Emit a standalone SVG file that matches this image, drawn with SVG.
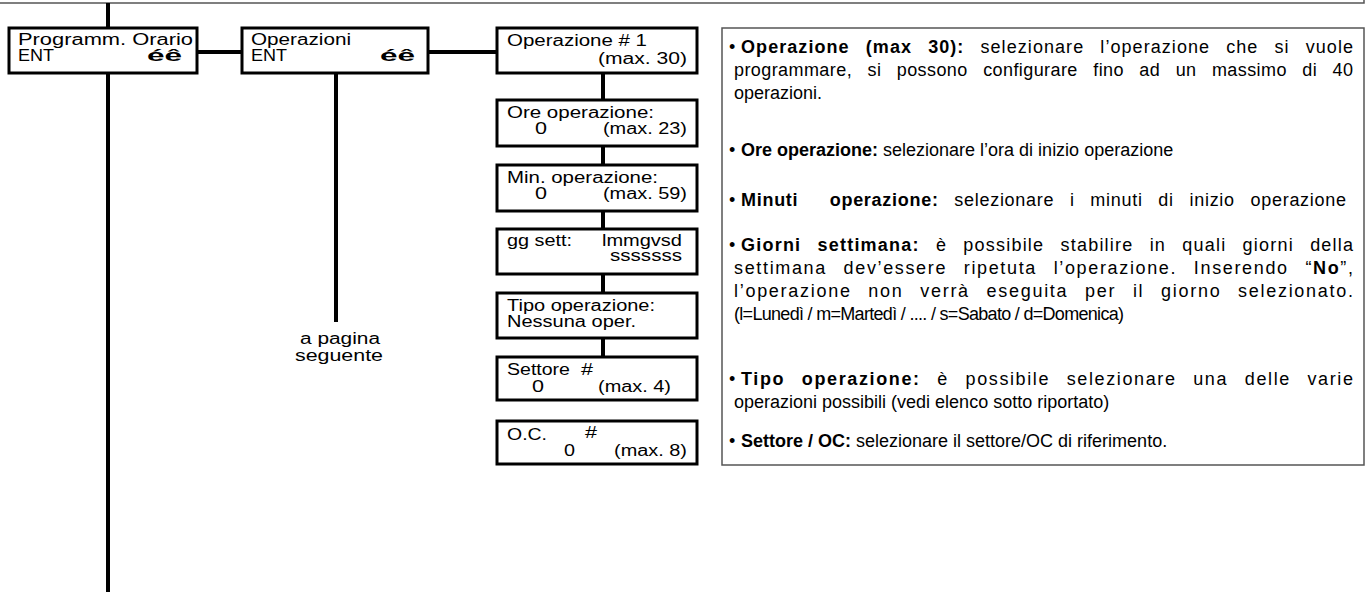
<svg xmlns="http://www.w3.org/2000/svg" width="1369" height="599" viewBox="0 0 1369 599">
<style>
.box{fill:#fff;stroke:#000;stroke-width:3}
.conn{stroke:#000;stroke-width:4;fill:none}
.frame{fill:none;stroke:#555;stroke-width:1.5}
.t{font-family:"Liberation Sans",Arial,sans-serif;font-size:16px;fill:#000}
.p{font-family:"Liberation Sans",Arial,sans-serif;font-size:18px;fill:#000}
.j{word-spacing:10px}
.b{font-weight:bold}
</style>
<rect width="1369" height="599" fill="#fff"/>
<g id="top-frame">
<polyline class="frame" points="0,3 1364,3 1364,0"/>
</g>
<g id="connectors">
<line class="conn" x1="108" y1="3" x2="108" y2="28"/>
<line class="conn" x1="108" y1="73" x2="108" y2="592"/>
<line class="conn" x1="197" y1="52" x2="242" y2="52"/>
<line class="conn" x1="428" y1="52" x2="497" y2="52"/>
<line class="conn" x1="336" y1="73" x2="336" y2="322"/>
<line class="conn" x1="603" y1="73" x2="603" y2="100"/>
<line class="conn" x1="603" y1="146" x2="603" y2="165"/>
<line class="conn" x1="603" y1="211" x2="603" y2="229"/>
<line class="conn" x1="603" y1="274" x2="603" y2="293"/>
<line class="conn" x1="603" y1="338" x2="603" y2="357"/>
</g>
<g id="n-programm">
<rect class="box" x="9" y="28" width="188" height="45"/>
<text class="t" x="18" y="45" textLength="175" lengthAdjust="spacingAndGlyphs">Programm. Orario</text>
<text class="t" x="18" y="61" textLength="36" lengthAdjust="spacingAndGlyphs">ENT</text>
<text class="t b" x="147" y="61" textLength="35" lengthAdjust="spacingAndGlyphs">éê</text>
</g>
<g id="n-operazioni">
<rect class="box" x="242" y="28" width="186" height="45"/>
<text class="t" x="251" y="45" textLength="100" lengthAdjust="spacingAndGlyphs">Operazioni</text>
<text class="t" x="251" y="61" textLength="36" lengthAdjust="spacingAndGlyphs">ENT</text>
<text class="t b" x="380" y="61" textLength="35" lengthAdjust="spacingAndGlyphs">éê</text>
</g>
<g id="n-pagina">
<text class="t" x="340" y="344" text-anchor="middle" textLength="80" lengthAdjust="spacingAndGlyphs">a pagina</text>
<text class="t" x="339" y="361" text-anchor="middle" textLength="88" lengthAdjust="spacingAndGlyphs">seguente</text>
</g>
<g id="n-op1">
<rect class="box" x="497" y="28" width="200" height="45"/>
<text class="t" x="507" y="46" textLength="140" lengthAdjust="spacingAndGlyphs">Operazione # 1</text>
<text class="t" x="598" y="64" textLength="89" lengthAdjust="spacingAndGlyphs">(max. 30)</text>
</g>
<g id="n-ore">
<rect class="box" x="497" y="100" width="200" height="46"/>
<text class="t" x="507" y="118" textLength="147" lengthAdjust="spacingAndGlyphs">Ore operazione:</text>
<text class="t" x="535" y="134" textLength="12" lengthAdjust="spacingAndGlyphs">0</text>
<text class="t" x="603" y="134" textLength="84" lengthAdjust="spacingAndGlyphs">(max. 23)</text>
</g>
<g id="n-min">
<rect class="box" x="497" y="165" width="200" height="46"/>
<text class="t" x="507" y="183" textLength="151" lengthAdjust="spacingAndGlyphs">Min. operazione:</text>
<text class="t" x="535" y="199" textLength="12" lengthAdjust="spacingAndGlyphs">0</text>
<text class="t" x="603" y="199" textLength="84" lengthAdjust="spacingAndGlyphs">(max. 59)</text>
</g>
<g id="n-gg">
<rect class="box" x="497" y="229" width="200" height="45"/>
<text class="t" x="507" y="246" textLength="65" lengthAdjust="spacingAndGlyphs">gg sett:</text>
<text class="t" x="602" y="246" textLength="80" lengthAdjust="spacingAndGlyphs">lmmgvsd</text>
<text class="t" x="610" y="261" textLength="72" lengthAdjust="spacingAndGlyphs">sssssss</text>
</g>
<g id="n-tipo">
<rect class="box" x="497" y="293" width="200" height="45"/>
<text class="t" x="507" y="311" textLength="148" lengthAdjust="spacingAndGlyphs">Tipo operazione:</text>
<text class="t" x="507" y="327" textLength="129" lengthAdjust="spacingAndGlyphs">Nessuna oper.</text>
</g>
<g id="n-settore">
<rect class="box" x="497" y="357" width="200" height="43"/>
<text class="t" x="507" y="375" textLength="63" lengthAdjust="spacingAndGlyphs">Settore</text>
<text class="t" x="581" y="375" textLength="12" lengthAdjust="spacingAndGlyphs">#</text>
<text class="t" x="532" y="392" textLength="12" lengthAdjust="spacingAndGlyphs">0</text>
<text class="t" x="598" y="392" textLength="73" lengthAdjust="spacingAndGlyphs">(max. 4)</text>
</g>
<g id="n-oc">
<rect class="box" x="497" y="421" width="200" height="43"/>
<text class="t" x="507" y="440" textLength="40" lengthAdjust="spacingAndGlyphs">O.C.</text>
<text class="t" x="585" y="438" textLength="12" lengthAdjust="spacingAndGlyphs">#</text>
<text class="t" x="564" y="456" textLength="11" lengthAdjust="spacingAndGlyphs">0</text>
<text class="t" x="614" y="456" textLength="73" lengthAdjust="spacingAndGlyphs">(max. 8)</text>
</g>
<g id="n-descrizione">
<rect class="frame" x="722" y="28" width="642" height="437" fill="#fff"/>
<text class="p" x="729" y="53">•</text>
<text class="p j" x="741" y="53" textLength="612" lengthAdjust="spacing"><tspan class="b">Operazione (max 30):</tspan> selezionare l’operazione che si vuole</text>
<text class="p j" x="734" y="76" textLength="619" lengthAdjust="spacing">programmare, si possono configurare fino ad un massimo di 40</text>
<text class="p" x="734" y="99">operazioni.</text>
<text class="p" x="729" y="156">•</text>
<text class="p" x="741" y="156"><tspan class="b">Ore operazione:</tspan> selezionare l’ora di inizio operazione</text>
<text class="p" x="729" y="206">•</text>
<text class="p j" x="741" y="206" textLength="605" lengthAdjust="spacing" xml:space="preserve"><tspan class="b">Minuti  operazione:</tspan> selezionare i minuti di inizio operazione</text>
<text class="p" x="729" y="251">•</text>
<text class="p j" x="741" y="251" textLength="612" lengthAdjust="spacing"><tspan class="b">Giorni settimana:</tspan> è possibile stabilire in quali giorni della</text>
<text class="p j" x="734" y="274" textLength="619" lengthAdjust="spacing">settimana dev’essere ripetuta l’operazione. Inserendo “<tspan class="b">No</tspan>”,</text>
<text class="p j" x="734" y="297" textLength="619" lengthAdjust="spacing">l’operazione non verrà eseguita per il giorno selezionato.</text>
<text class="p" x="734" y="320" textLength="390" lengthAdjust="spacing">(l=Lunedì / m=Martedì / .... / s=Sabato / d=Domenica)</text>
<text class="p" x="729" y="385">•</text>
<text class="p j" x="741" y="385" textLength="612" lengthAdjust="spacing"><tspan class="b">Tipo operazione:</tspan> è possibile selezionare una delle varie</text>
<text class="p" x="734" y="408">operazioni possibili (vedi elenco sotto riportato)</text>
<text class="p" x="729" y="447">•</text>
<text class="p" x="741" y="447"><tspan class="b">Settore / OC:</tspan> selezionare il settore/OC di riferimento.</text>
</g>
</svg>
